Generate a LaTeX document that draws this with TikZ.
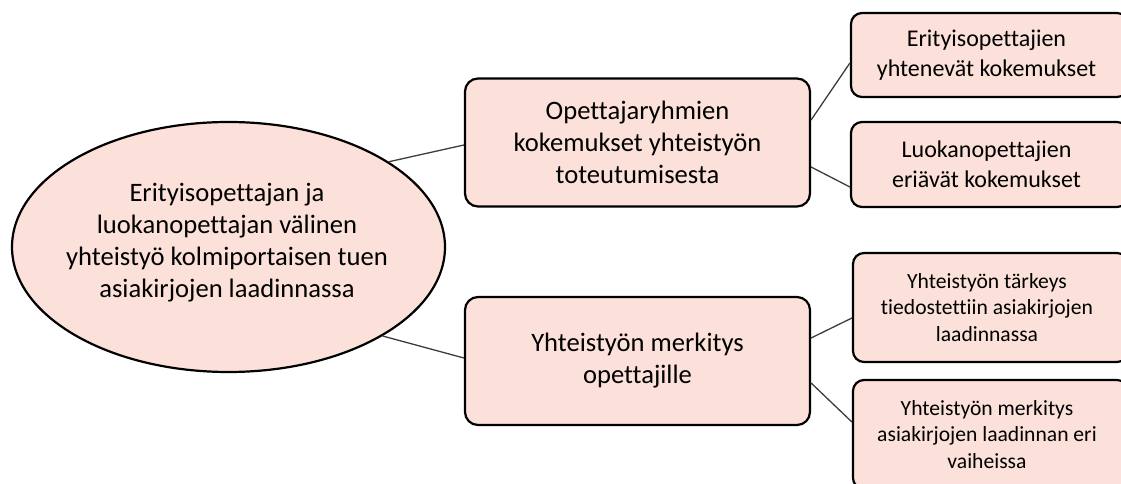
\documentclass[tikz,border=0pt]{standalone}
\usepackage{fontspec}
\setmainfont{Carlito}[Ligatures=NoCommon]
\usetikzlibrary{shapes.geometric}
\definecolor{boxfill}{RGB}{251,225,217}
\definecolor{linegray}{RGB}{60,60,60}
\tikzset{
  mainbox/.style={draw=black, line width=2.2pt, fill=boxfill, rounded corners=13pt, align=center, minimum width=345pt, minimum height=128pt, inner sep=0pt},
  subbox/.style={draw=black, line width=2.2pt, fill=boxfill, rounded corners=11pt, align=center, inner sep=0pt},
  conn/.style={draw=linegray, line width=1.3pt},
  bigtext/.style={font=\fontsize{26.6}{32}\selectfont},
  midtext/.style={font=\fontsize{24}{30}\selectfont},
  smalltext/.style={font=\fontsize{21.6}{26.5}\selectfont}
}
\begin{document}
\begin{tikzpicture}[x=1pt,y=-1pt]
\useasboundingbox (0,0) rectangle (1121,484);
% ellipse
\node[ellipse, draw=black, line width=2.2pt, fill=boxfill, minimum width=433pt, minimum height=250pt, inner sep=0pt] (ell) at (228.5,247) {};
\node[bigtext, align=center] (ellt) at (227,243) {Erityisopettajan ja\\luokanopettajan välinen\\yhteistyö kolmiportaisen tuen\\asiakirjojen laadinnassa};
% middle boxes
\node[mainbox, bigtext] (b1) at (637.5,142.5) {\raisebox{-2pt}{Opettajaryhmien}\\\raisebox{-2pt}{kokemukset yhteistyön}\\\raisebox{-2pt}{toteutumisesta}};
\node[mainbox, bigtext] (b2) at (637.5,361) {\raisebox{-2pt}{Yhteistyön merkitys}\\\raisebox{-2pt}{opettajille}};
% right boxes
\node[subbox, midtext, minimum width=277pt, minimum height=84pt] (r1) at (989.5,55) {\hspace*{-6pt}Erityisopettajien\\\hspace*{-6pt}yhtenevät kokemukset};
\node[subbox, midtext, minimum width=277pt, minimum height=85pt] (r2) at (989.5,164.5) {\hspace*{-6pt}Luokanopettajien\\\hspace*{-6pt}eriävät kokemukset};
\node[subbox, smalltext, minimum width=275pt, minimum height=109pt] (r3) at (990.5,307.5) {\hspace*{-7pt}Yhteistyön tärkeys\\\hspace*{-7pt}tiedostettiin asiakirjojen\\\hspace*{-7pt}laadinnassa};
\node[subbox, smalltext, minimum width=275pt, minimum height=109pt] (r4) at (990.5,434.5) {\hspace*{-7pt}Yhteistyön merkitys\\\hspace*{-7pt}asiakirjojen laadinnan eri\\\hspace*{-7pt}vaiheissa};
% connectors
\draw[conn] (ell.28) -- ([yshift=-2.5pt]b1.west);
\draw[conn] (ell.-30) -- ([yshift=3pt]b2.west);
\draw[conn] ([yshift=22.5pt]b1.east) -- ([yshift=-8pt]r1.west);
\draw[conn] ([yshift=-24.5pt]b1.east) -- ([yshift=-22.5pt]r2.west);
\draw[conn] ([yshift=23pt]b2.east) -- ([yshift=-10.5pt]r3.west);
\draw[conn] ([yshift=-22pt]b2.east) -- ([yshift=12.5pt]r4.west);
\end{tikzpicture}
\end{document}
